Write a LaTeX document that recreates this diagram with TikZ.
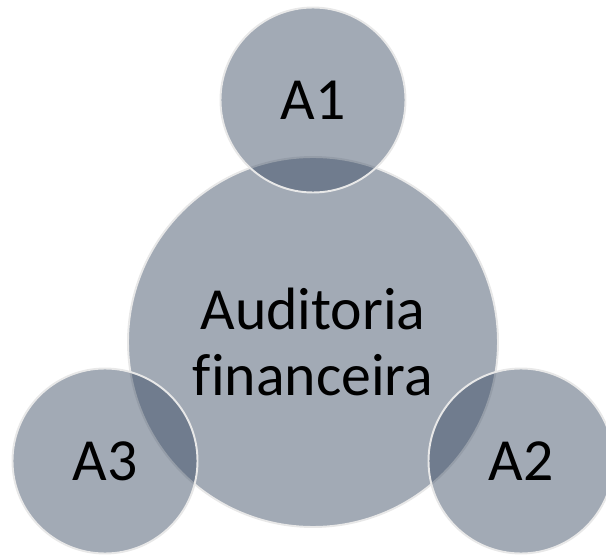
\documentclass[tikz,border=0pt]{standalone}
\usepackage{fontspec}
\setmainfont[Ligatures=NoCommon]{Carlito}
\usepackage{tikz}
\usetikzlibrary{positioning}
\definecolor{myslate}{RGB}{58, 75, 99}
\definecolor{myrim}{RGB}{232, 232, 232}

\begin{document}
\begin{tikzpicture}[
    bubble/.style={circle, fill=myslate, fill opacity=0.475, text opacity=1, draw=myrim, draw opacity=1, line width=1.1pt, inner sep=0pt, font=\fontsize{34}{38}\selectfont},
]
    \useasboundingbox (0, 0) rectangle (12.12, 11.08);
    % centro
    \node[bubble, minimum size=7.4cm, align=center] (main) at (6.26, 4.24) {Auditoria\\financeira};
    
    % satelites
    \node[bubble, minimum size=3.7cm] (a1) at (6.26, 9.08) {A1};
    \node[bubble, minimum size=3.7cm] (a2) at (10.42, 1.86) {A2};
    \node[bubble, minimum size=3.7cm] (a3) at (2.10, 1.86) {A3};
\end{tikzpicture}
\end{document}
